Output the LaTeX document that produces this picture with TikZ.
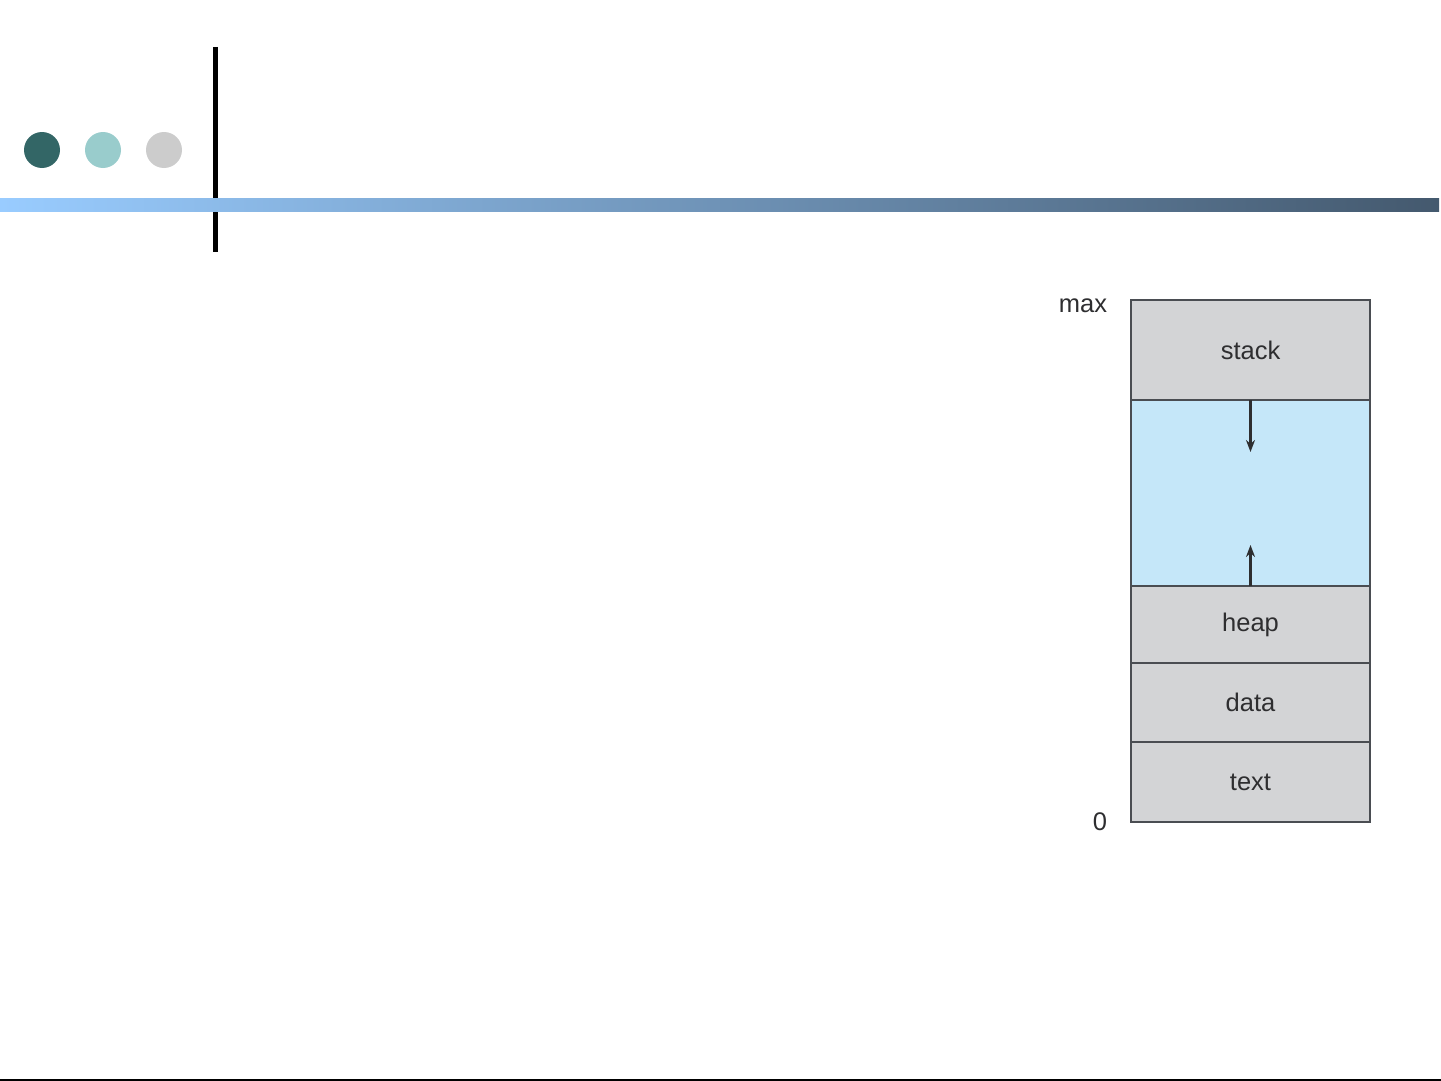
\documentclass[tikz,border=0pt]{standalone}
\usepackage{fontspec}
\setmainfont{Liberation Sans}
\usepackage{xcolor}
\usepackage{tikz}
\usetikzlibrary{arrows.meta, positioning}
\definecolor{dotdark}{HTML}{336666}
\definecolor{dotteal}{HTML}{99CCCC}
\definecolor{dotgrey}{HTML}{CCCCCC}
\definecolor{barlight}{HTML}{99CCFF}
\definecolor{bardark}{HTML}{44596E}
\definecolor{segfill}{HTML}{D3D4D6}
\definecolor{freefill}{HTML}{C5E7F9}
\definecolor{segline}{HTML}{4A4D52}
\definecolor{segtext}{HTML}{2E2E30}

\begin{document}
\begin{tikzpicture}[x=1pt, y=-1pt,
    seg/.style={draw=segline, line width=1.8pt, fill=segfill, minimum width=239pt,
      inner sep=0pt, outer sep=0pt, text=segtext, font=\fontsize{25.5}{30}\selectfont},
    freeseg/.style={seg, fill=freefill},
    addr/.style={text=segtext, font=\fontsize{25.5}{30}\selectfont, inner sep=0pt},
    growarrow/.style={-{Stealth[length=12pt, width=9pt]}, line width=2.4pt, draw=segtext}]
  \useasboundingbox (0,0) rectangle (1441,1081);
  % Header
  \foreach \i/\c in {0/dotdark, 1/dotteal, 2/dotgrey}
    \fill[\c] (42+61*\i,150) circle (18);
  \draw[line width=5pt] (215.5,47) -- (215.5,252);
  \shade[left color=barlight, right color=bardark] (0,198) rectangle (1439,211);
  \draw[line width=2pt] (0,1080) -- (1441,1080);
  % Memory layout
  \node[seg, minimum height=100pt] (stack) at (1250.5,350) {stack};
  \node[freeseg, minimum height=186pt, below=0pt of stack] (free) {};
  \node[seg, minimum height=77pt, below=0pt of free] (heap) {heap};
  \node[seg, minimum height=79pt, below=0pt of heap] (data) {data};
  \node[seg, minimum height=80pt, below=0pt of data] (text) {text};
  \draw[growarrow] (free.north) -- ++(0,52);
  \draw[growarrow] (free.south) -- ++(0,-41);
  \node[addr] (max) at (1083,306) {max};
  \node[addr] (zero) at (1100,822) {0};
\end{tikzpicture}
\end{document}
